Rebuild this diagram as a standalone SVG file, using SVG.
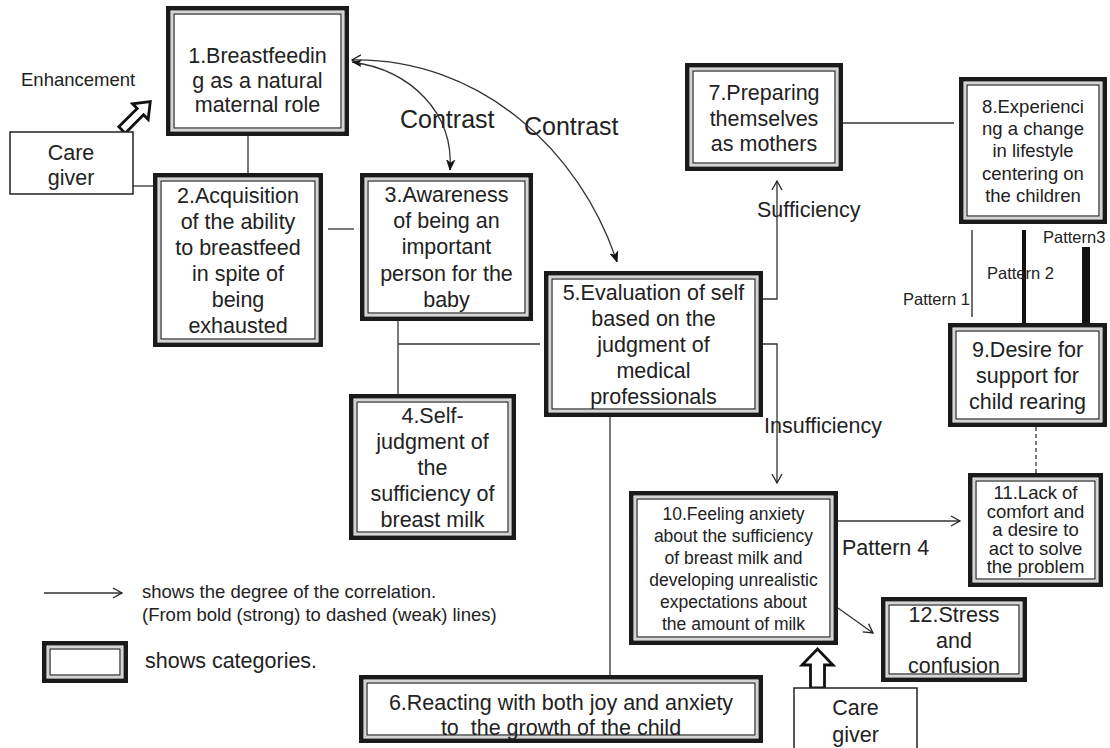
<svg xmlns="http://www.w3.org/2000/svg" width="1110" height="748" viewBox="0 0 1110 748">
<style>
text{font-family:"Liberation Sans",Arial,sans-serif;fill:#222}
.t{font-size:21.5px;text-anchor:middle}
.s{font-size:18.5px;text-anchor:middle}
.m{font-size:17.5px;text-anchor:middle}
.o{fill:#fff;stroke:#1a1a1a;stroke-width:4.5}
.g{fill:none;stroke:#aaa;stroke-width:1}
.i{fill:none;stroke:#222;stroke-width:1.2}
.c{fill:none;stroke:#333;stroke-width:1.3}
.cg{fill:#fff;stroke:#222;stroke-width:1.5}
.blk{fill:#fff;stroke:#111;stroke-width:2.8;stroke-linejoin:miter}
</style>
<defs>
<marker id="open" markerWidth="12" markerHeight="12" refX="10" refY="6" orient="auto" markerUnits="userSpaceOnUse">
<path d="M1,1 L10,6 L1,11" fill="none" stroke="#222" stroke-width="1.3"/>
</marker>
<marker id="fill" markerWidth="12" markerHeight="12" refX="10" refY="6" orient="auto" markerUnits="userSpaceOnUse">
<path d="M0,2 L10,6 L0,10 L3,6 Z" fill="#111" stroke="#111" stroke-width="0.8"/>
</marker>
<marker id="fillS" markerWidth="12" markerHeight="12" refX="2" refY="6" orient="auto" markerUnits="userSpaceOnUse">
<path d="M12,2 L2,6 L12,10 L9,6 Z" fill="#111"/>
</marker>
<marker id="openS" markerWidth="12" markerHeight="12" refX="2" refY="6" orient="auto" markerUnits="userSpaceOnUse">
<path d="M11,1 L2,6 L11,11" fill="none" stroke="#222" stroke-width="1.2"/>
</marker>
</defs>
<rect width="1110" height="748" fill="#fff"/>

<g id="connectors">
<line class="c" x1="248" y1="136" x2="248" y2="173"/>
<line class="c" x1="133" y1="186" x2="153" y2="186"/>
<line class="c" x1="328" y1="229" x2="354" y2="229"/>
<line class="c" x1="398" y1="321" x2="398" y2="394"/>
<line class="c" x1="398" y1="344" x2="540" y2="344"/>
<line class="c" x1="610" y1="417" x2="610" y2="675"/>
<line class="c" x1="843" y1="123" x2="954" y2="123"/>
<path class="c" d="M352,62 C410,70 454,112 450,170" marker-start="url(#fillS)" marker-end="url(#fill)"/>
<path class="c" d="M352,60 C480,58 580,150 617,262" marker-start="url(#openS)" marker-end="url(#fill)"/>
<polyline class="c" points="763,299 777,299 777,181" marker-end="url(#open)"/>
<polyline class="c" points="763,344 777,344 777,483" marker-end="url(#open)"/>
<line x1="972" y1="230" x2="972" y2="317" stroke="#222" stroke-width="1.3"/>
<line x1="1024" y1="230" x2="1024" y2="323" stroke="#111" stroke-width="4"/>
<line x1="1086" y1="247" x2="1086" y2="323" stroke="#111" stroke-width="8"/>
<line x1="1036" y1="427" x2="1036" y2="473" stroke="#222" stroke-width="1.2" stroke-dasharray="4,3"/>
<line class="c" x1="838" y1="521" x2="960" y2="521" marker-end="url(#open)"/>
<line class="c" x1="838" y1="608" x2="873" y2="633" marker-end="url(#open)"/>
<polygon class="blk" transform="translate(122,130) rotate(-45)" points="0,-4.5 26,-4.5 26,-11 40,0 26,11 26,4.5 0,4.5"/>
<polygon class="blk" points="810.5,688 810.5,665 802,665 817.5,649 833,665 824.5,665 824.5,688"/>
</g>

<g id="labels">
<text x="21" y="86" style="font-size:18.5px">Enhancement</text>
<text x="400" y="128" style="font-size:25px">Contrast</text>
<text x="524" y="135" style="font-size:25px">Contrast</text>
<text x="757" y="217" style="font-size:21.5px">Sufficiency</text>
<text x="764" y="433" style="font-size:21.5px">Insufficiency</text>
<text x="842" y="555" style="font-size:21.5px">Pattern 4</text>
<text x="903" y="305" style="font-size:16.5px">Pattern 1</text>
<text x="987" y="279" style="font-size:16.5px">Pattern 2</text>
<text x="1043" y="243" style="font-size:16.5px">Pattern3</text>
</g>

<g id="caregiver1">
<rect class="cg" x="10" y="132" width="123" height="62"/>
<text class="t" x="71" y="160">Care</text>
<text class="t" x="71" y="185">giver</text>
</g>

<g id="caregiver2">
<rect class="cg" x="794" y="688" width="123" height="72"/>
<text class="t" x="855.5" y="715">Care</text>
<text class="t" x="855.5" y="742">giver</text>
</g>

<g id="n1">
<rect class="o" x="168.25" y="8.25" width="178.5" height="125.5"/>
<rect class="g" x="172" y="12" width="171" height="118"/>
<rect class="i" x="174" y="14" width="167" height="114"/>
<text class="t" x="257.5" y="63">1.Breastfeedin</text>
<text class="t" x="257.5" y="88">g as a natural</text>
<text class="t" x="257.5" y="112">maternal role</text>
</g>

<g id="n2">
<rect class="o" x="155.25" y="175.25" width="165.5" height="169.5"/>
<rect class="g" x="159" y="179" width="158" height="162"/>
<rect class="i" x="161" y="181" width="154" height="158"/>
<text class="t" x="238" y="203">2.Acquisition</text>
<text class="t" x="238" y="229">of the ability</text>
<text class="t" x="238" y="255">to breastfeed</text>
<text class="t" x="238" y="281">in spite of</text>
<text class="t" x="238" y="307">being</text>
<text class="t" x="238" y="333">exhausted</text>
</g>

<g id="n3">
<rect class="o" x="362.25" y="175.25" width="168.5" height="143.5"/>
<rect class="g" x="366" y="179" width="161" height="136"/>
<rect class="i" x="368" y="181" width="157" height="132"/>
<text class="t" x="446.5" y="202">3.Awareness</text>
<text class="t" x="446.5" y="228">of being an</text>
<text class="t" x="446.5" y="254">important</text>
<text class="t" x="446.5" y="281">person for the</text>
<text class="t" x="446.5" y="307">baby</text>
</g>

<g id="n4">
<rect class="o" x="351.25" y="396.25" width="162.5" height="141.5"/>
<rect class="g" x="355" y="400" width="155" height="134"/>
<rect class="i" x="357" y="402" width="151" height="130"/>
<text class="t" x="432.5" y="423">4.Self-</text>
<text class="t" x="432.5" y="449">judgment of</text>
<text class="t" x="432.5" y="475">the</text>
<text class="t" x="432.5" y="501">sufficiency of</text>
<text class="t" x="432.5" y="527">breast milk</text>
</g>

<g id="n5">
<rect class="o" x="546.25" y="273.25" width="214.5" height="141.5"/>
<rect class="g" x="550" y="277" width="207" height="134"/>
<rect class="i" x="552" y="279" width="203" height="130"/>
<text class="t" x="653.5" y="300">5.Evaluation of self</text>
<text class="t" x="653.5" y="326">based on the</text>
<text class="t" x="653.5" y="352">judgment of</text>
<text class="t" x="653.5" y="378">medical</text>
<text class="t" x="653.5" y="404">professionals</text>
</g>

<g id="n6">
<rect class="o" x="361.25" y="677.25" width="399.5" height="63.5"/>
<rect class="g" x="365" y="681" width="392" height="56"/>
<rect class="i" x="367" y="683" width="388" height="52"/>
<text class="t" x="561" y="710" xml:space="preserve">6.Reacting with both joy and anxiety</text>
<text class="t" x="561" y="735" xml:space="preserve">to  the growth of the child</text>
</g>

<g id="n7">
<rect class="o" x="687.25" y="65.25" width="153.5" height="103.5"/>
<rect class="g" x="691" y="69" width="146" height="96"/>
<rect class="i" x="693" y="71" width="142" height="92"/>
<text class="t" x="764" y="100">7.Preparing</text>
<text class="t" x="764" y="125.5">themselves</text>
<text class="t" x="764" y="151">as mothers</text>
</g>

<g id="n8">
<rect class="o" x="961.25" y="79.25" width="143.5" height="142.5"/>
<rect class="g" x="965" y="83" width="136" height="135"/>
<rect class="i" x="967" y="85" width="132" height="131"/>
<text class="s" x="1033" y="113">8.Experienci</text>
<text class="s" x="1033" y="135">ng a change</text>
<text class="s" x="1033" y="157">in lifestyle</text>
<text class="s" x="1033" y="180">centering on</text>
<text class="s" x="1033" y="202">the children</text>
</g>

<g id="n9">
<rect class="o" x="950.25" y="325.25" width="154.5" height="99.5"/>
<rect class="g" x="954" y="329" width="147" height="92"/>
<rect class="i" x="956" y="331" width="143" height="88"/>
<text class="t" x="1027.5" y="357">9.Desire for</text>
<text class="t" x="1027.5" y="383">support for</text>
<text class="t" x="1027.5" y="409">child rearing</text>
</g>

<g id="n10">
<rect class="o" x="631.25" y="493.25" width="204.5" height="149.5"/>
<rect class="g" x="635" y="497" width="197" height="142"/>
<rect class="i" x="637" y="499" width="193" height="138"/>
<text class="m" x="733.5" y="520">10.Feeling anxiety</text>
<text class="m" x="733.5" y="542">about the sufficiency</text>
<text class="m" x="733.5" y="564">of breast milk and</text>
<text class="m" x="733.5" y="586">developing unrealistic</text>
<text class="m" x="733.5" y="608">expectations about</text>
<text class="m" x="733.5" y="630">the amount of milk</text>
</g>

<g id="n11">
<rect class="o" x="970.25" y="475.25" width="130.5" height="109.5"/>
<rect class="g" x="974" y="479" width="123" height="102"/>
<rect class="i" x="976" y="481" width="119" height="98"/>
<text class="s" x="1035.5" y="499">11.Lack of</text>
<text class="s" x="1035.5" y="517.6">comfort and</text>
<text class="s" x="1035.5" y="536.2">a desire to</text>
<text class="s" x="1035.5" y="554.8">act to solve</text>
<text class="s" x="1035.5" y="573.4">the problem</text>
</g>

<g id="n12">
<rect class="o" x="883.25" y="599.25" width="141.5" height="80.5"/>
<rect class="g" x="887" y="603" width="134" height="73"/>
<rect class="i" x="889" y="605" width="130" height="69"/>
<text class="t" x="954" y="622">12.Stress</text>
<text class="t" x="954" y="648">and</text>
<text class="t" x="954" y="673">confusion</text>
</g>

<g id="legend">
<line class="c" x1="44" y1="593" x2="122" y2="593" marker-end="url(#open)"/>
<text x="142" y="598" style="font-size:18.5px">shows the degree of the correlation.</text>
<text x="142" y="621" style="font-size:18.5px">(From bold (strong) to dashed (weak) lines)</text>
<rect class="o" x="44.25" y="643.25" width="81.5" height="37.5"/>
<rect class="g" x="48" y="647" width="74" height="30"/>
<rect class="i" x="50" y="649" width="70" height="26"/>
<text x="145" y="668" style="font-size:21.5px">shows categories.</text>
</g>
</svg>
